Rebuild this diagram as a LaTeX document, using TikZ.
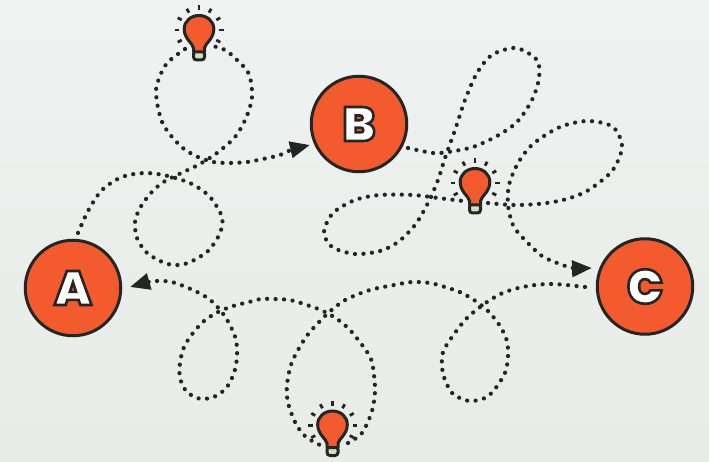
\documentclass[tikz,border=0pt]{standalone}
\usepackage{fontspec}
\setmainfont{Liberation Sans}
\newfontfamily\heavyface{Poppins Black}
\usetikzlibrary{arrows.meta}
\definecolor{ink}{HTML}{222725}
\definecolor{fire}{HTML}{F35A2D}
\definecolor{cap}{HTML}{D8DDBF}
\definecolor{bgtop}{HTML}{EFF2F1}
\definecolor{bgbot}{HTML}{E7ECE7}
\newcommand{\outlined}[1]{{\color{white}\special{pdf:code 2 Tr 2.6 w 0.133 0.153 0.145 RG}#1\special{pdf:code 0 Tr}}}
\tikzset{
  hub/.style={circle,draw=ink,fill=fire,line width=3pt,minimum size=95.5pt,inner sep=0pt,font=\fontsize{48}{48}\heavyface},
  dotted path/.style={draw=ink,line width=4.2pt,line cap=round,dash pattern=on 0.1pt off 8.4pt},
  tipped/.style={dotted path,-{Triangle[length=20pt,width=16pt]}},
  bulbicon/.pic={
    \foreach \a in {-120,-90,-60,-30,0,30,60,90,120}
      \draw[ink,line width=2.8pt] (\a-90:20) -- (\a-90:24.5);
    \draw[ink,line width=3pt,fill=cap,rounded corners=3pt] (-5.5,21) -- (-5.5,30) -- (5.5,30) -- (5.5,21) -- cycle;
    \draw[ink,line width=3pt,fill=fire,line join=round] (-5.5,22) -- (-5.5,18) .. controls (-6,13.5) and (-14.8,9) .. (-14.8,-1) .. controls (-14.8,-9) and (-8,-14.5) .. (0,-14.5) .. controls (8,-14.5) and (14.8,-9) .. (14.8,-1) .. controls (14.8,9) and (6,13.5) .. (5.5,18) -- (5.5,22) -- cycle;
  }
}
\begin{document}
\begin{tikzpicture}[x=1pt,y=-1pt]
\useasboundingbox (0,0) rectangle (709,462);
\shade[top color=bgtop,bottom color=bgbot] (0,0) rectangle (709,462);
\node[hub] (A) at (73,288) {\outlined{A}};
\node[hub] (B) at (359,124) {\outlined{B}};
\node[hub] (C) at (645,286.5) {\outlined{C}};
\coordinate (abStart) at (78,233);
\coordinate (abEnd) at (310,145);
\coordinate (bcStart) at (408,148);
\coordinate (bcEnd) at (592,268);
\coordinate (caStart) at (585,287);
\coordinate (caEnd) at (130,287);
% A to B
\draw[dotted path] plot[smooth] coordinates {(abStart) (88,211) (102,190) (122,177) (145,173) (168,176) (192,184) (210,197) (222,217) (220,233) (208,251) (188,263) (173,265) (160,261) (146,252) (137,238) (135,222) (140,208) (150,194) (162,183) (177,175) (198,165) (217,153) (235,137) (246,118) (252,97) (249,74) (237,60) (225,50) (209,45)};
\draw[tipped] plot[smooth] coordinates {(185,49) (168,62) (160,76) (156,90) (158,108) (163,124) (172,137) (184,149) (198,157) (213,162) (230,163) (247,162) (263,159) (280,155) (291,150) (abEnd)};
% B to C
\draw[dotted path] plot[smooth] coordinates {(bcStart) (433,153) (448,152) (473,147) (497,136) (517,122) (532,100) (539,78) (537,60) (516,48) (492,55) (477,73) (465,100) (455,130) (445,158) (438,180) (428,203) (415,225) (398,242) (380,251) (355,254) (332,247) (324,232) (333,213) (355,200) (380,195) (413,195) (438,198) (463,201)};
\draw[tipped] plot[smooth] coordinates {(488,203) (513,205) (538,204) (563,200) (587,191) (612,171) (622,147) (613,127) (588,121) (560,127) (533,144) (518,163) (509,185) (508,205) (513,225) (523,238) (542,256) (560,264) (573,268) (bcEnd)};
% C to A
\draw[dotted path] plot[smooth] coordinates {(caStart) (553,284) (528,286) (505,292) (487,302) (467,318) (452,337) (443,352) (442,367) (445,380) (453,394) (469,401) (485,398) (495,389) (505,373) (508,357) (507,341) (500,326) (489,312) (477,302) (462,293) (445,287) (430,283) (412,282) (394,285) (370,290) (347,299) (334,308) (322,319) (306,337) (292,362) (287,385) (288,403) (296,424) (306,437) (320,445)};
\draw[tipped] plot[smooth] coordinates {(348,443) (362,433) (372,411) (375,389) (372,362) (365,349) (350,330) (337,319) (323,311) (307,305) (290,300) (274,299) (261,299) (249,302) (233,306) (218,312) (204,321) (193,333) (184,347) (180,363) (180,378) (187,392) (201,399) (216,396) (227,387) (234,373) (237,357) (236,340) (230,325) (221,311) (209,299) (195,291) (172,282) (155,281) (148,282) (caEnd)};
\pic at (199,30) {bulbicon};
\pic at (475,183) {bulbicon};
\pic at (332.5,425.5) {bulbicon};
\end{tikzpicture}
\end{document}
